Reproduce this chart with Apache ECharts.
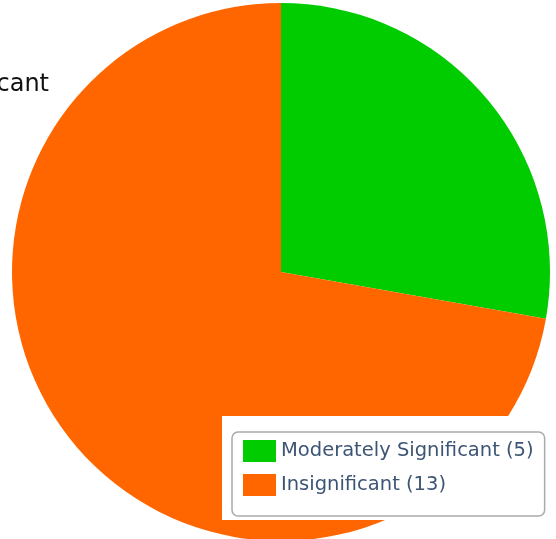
<!DOCTYPE html>
<html>
<head>
<meta charset="utf-8">
<script src="https://cdn.jsdelivr.net/npm/echarts@6/dist/echarts.min.js"></script>
<style>
  html, body { margin: 0; padding: 0; background: #fff; }
  #chart { width: 556px; height: 539px; }
</style>
</head>
<body>
<div id="chart"></div>
<script>
const categories = ['Moderately Significant', 'Insignificant'];
const counts = [5, 13];
const colors = ['#00cc00', '#ff6600'];

const chart = echarts.init(document.getElementById('chart'));

chart.setOption({
  animation: false,
  color: colors,
  graphic: [
    {
      type: 'text',
      style: {
        x: 49,
        y: 85,
        text: 'Insignificant',
        align: 'right',
        verticalAlign: 'middle',
        fontSize: 24,
        fontFamily: 'DejaVu Sans',
        fill: '#111'
      },
      z: 10
    },
    {
      type: 'rect',
      shape: { x: 222, y: 416, width: 334, height: 104 },
      style: { fill: '#fff' },
      z: 50
    }
  ],
  legend: {
    orient: 'vertical',
    left: 232,
    top: 432,
    selectedMode: false,
    icon: 'rect',
    itemWidth: 33,
    itemHeight: 22,
    itemGap: 12,
    padding: [8, 11, 20, 11],
    backgroundColor: '#fff',
    borderColor: '#aaa',
    borderWidth: 1.5,
    borderRadius: 6,
    z: 60,
    textStyle: {
      fontSize: 19.5,
      fontFamily: 'DejaVu Sans',
      color: '#3d5575'
    },
    formatter: function (name) {
      return name + ' (' + counts[categories.indexOf(name)] + ')';
    },
    data: categories
  },
  series: [
    {
      type: 'pie',
      center: [281, 272],
      radius: 269,
      startAngle: 90,
      clockwise: true,
      label: { show: false },
      labelLine: { show: false },
      emphasis: { disabled: true },
      data: categories.map((name, i) => ({ name: name, value: counts[i] }))
    }
  ]
});
</script>
</body>
</html>
